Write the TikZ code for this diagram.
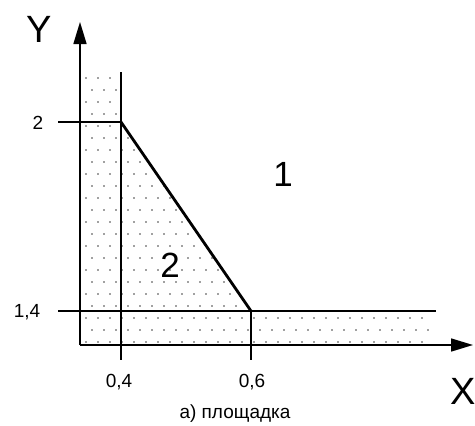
\documentclass[tikz,border=0pt]{standalone}
\usepackage{fontspec}
\setmainfont{Liberation Sans}
\usetikzlibrary{arrows.meta}

\begin{document}
\begin{tikzpicture}[x=1pt, y=-1pt,
  axis/.style={line width=1.6pt, -{Triangle[length=22pt,width=13pt]}},
  rule/.style={line width=1.3pt},
  edge/.style={line width=2.8pt, line cap=round},
  speck/.style={fill=black!75},
  ticklbl/.style={font=\fontsize{19}{19}\selectfont},
  axislbl/.style={font=\fontsize{38}{38}\selectfont},
  zonelbl/.style={font=\fontsize{35}{35}\selectfont},
  caption/.style={font=\fontsize{19}{19}\selectfont}
]
\useasboundingbox (0,0) rectangle (475,426);
% key points
\coordinate (O) at (80,345);
\coordinate (ytip) at (80,22);
\coordinate (xtip) at (473,345);
\coordinate (top) at (121,72);
\coordinate (A) at (121,122);
\coordinate (B) at (251,311);
\coordinate (Ab) at (121,360);
\coordinate (Bb) at (251,360);
\coordinate (ta) at (58,122);
\coordinate (tb) at (58,311);
\coordinate (te) at (436,311);

% dotted zone
\begin{scope}
  \clip (80,72) -- (top) -- (A) -- (B) -- (432,311) -- (432,345) -- (O) -- cycle;
  \foreach \r in {0,...,23} {
    \foreach \c in {0,...,30} {
      \pgfmathsetmacro{\px}{86+12*\c+6*mod(\r,2)}
      \pgfmathsetmacro{\py}{78+12*\r}
      \fill[speck] (\px,\py) circle (0.9pt);
    }
  }
\end{scope}

% axes and lines
\draw[axis] (O) -- (ytip);
\draw[axis] (O) -- (xtip);
\draw[rule] (top) -- (Ab);
\draw[rule] (ta) -- (A);
\draw[rule] (tb) -- (te);
\draw[rule] (B) -- (Bb);
\draw[edge] (A) -- (B);

% labels
\node[axislbl] (ylbl) at (39,29) {Y};
\node[axislbl] (xlbl) at (463,391) {X};
\node[ticklbl] (y2) at (38,123) {2};
\node[ticklbl] (y14) at (27,312) {1,4};
\node[ticklbl] (x04) at (119,382) {0,4};
\node[ticklbl] (x06) at (252,382) {0,6};
\node[zonelbl] (z1) at (283,174) {1};
\node[zonelbl] (z2) at (170,265) {2};
\node[caption] (cap) at (235,414) {а) площадка};
\end{tikzpicture}
\end{document}
